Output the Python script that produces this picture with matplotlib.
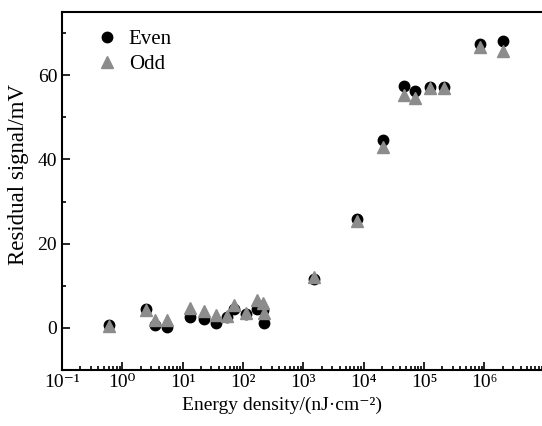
import numpy as np
import matplotlib
matplotlib.use("Agg")
import matplotlib.pyplot as plt
from matplotlib.ticker import LogLocator, NullFormatter, MultipleLocator, FixedLocator

plt.rcParams['font.family'] = ['Liberation Serif', 'DejaVu Serif']

# energy density (nJ/cm^2) and residual signal (mV)
energy = [0.61, 2.5, 3.5, 5.5, 13.4, 22.6, 36, 54, 71, 112, 170, 212, 226,
          1470, 7600, 20500, 45600, 71600, 126000, 212000, 838000, 2.0e6]
even = [0.8, 4.6, 0.8, 0.2, 2.5, 2.1, 1.1, 2.6, 4.6, 3.2, 4.5, 4.2, 1.1,
        11.6, 25.8, 44.7, 57.4, 56.3, 57.3, 57.3, 67.3, 68.0]
odd = [0.5, 4.3, 1.9, 1.9, 4.8, 3.9, 3.1, 2.9, 5.5, 3.5, 6.6, 6.0, 3.6,
       12.0, 25.3, 43.0, 55.3, 54.5, 56.9, 56.9, 66.6, 65.8]

decades = [1e-1, 1e0, 1e1, 1e2, 1e3, 1e4, 1e5, 1e6]
decade_labels = ['10⁻¹', '10⁰', '10¹', '10²', '10³', '10⁴', '10⁵', '10⁶']

fig = plt.figure(figsize=(5.42, 4.26), dpi=100)
ax = fig.add_axes([62 / 542, 56 / 426, 481 / 542, 358 / 426])

ax.plot(energy, even, 'o', color='black', ms=7.5, label='Even', clip_on=False)
ax.plot(energy, odd, '^', color='#8c8c8c', ms=8.5, label='Odd', clip_on=False)

ax.set_xscale('log')
ax.set_xlim(1e-1, 10 ** 6.97)
ax.set_ylim(-10, 75)

ax.xaxis.set_major_locator(FixedLocator(decades))
ax.set_xticklabels(decade_labels)
ax.xaxis.set_minor_locator(LogLocator(base=10, subs=np.arange(2, 10), numticks=20))
ax.xaxis.set_minor_formatter(NullFormatter())
ax.yaxis.set_major_locator(MultipleLocator(20))
ax.yaxis.set_minor_locator(MultipleLocator(10))

ax.tick_params(which='both', direction='in', top=False, right=False,
               labelsize=14, width=1.2)
ax.tick_params(which='major', length=6)
ax.tick_params(axis='x', which='major', pad=3)
ax.tick_params(which='minor', length=3)
for s in ax.spines.values():
    s.set_linewidth(1.5)
ax.spines['right'].set_visible(False)

ax.set_xlabel('Energy density/(nJ·cm⁻²)', fontsize=14)
ax.xaxis.set_label_coords(0.457, -0.075)
ax.set_ylabel('Residual signal/mV', fontsize=16.5)
ax.yaxis.set_label_coords(-0.068, 0.545)

ax.legend(loc='upper left', frameon=False, fontsize=15, handletextpad=0.3,
          bbox_to_anchor=(0.035, 0.985), borderaxespad=0.2, labelspacing=0.25,
          handlelength=1.5)

fig.savefig('out.png', dpi=100)
